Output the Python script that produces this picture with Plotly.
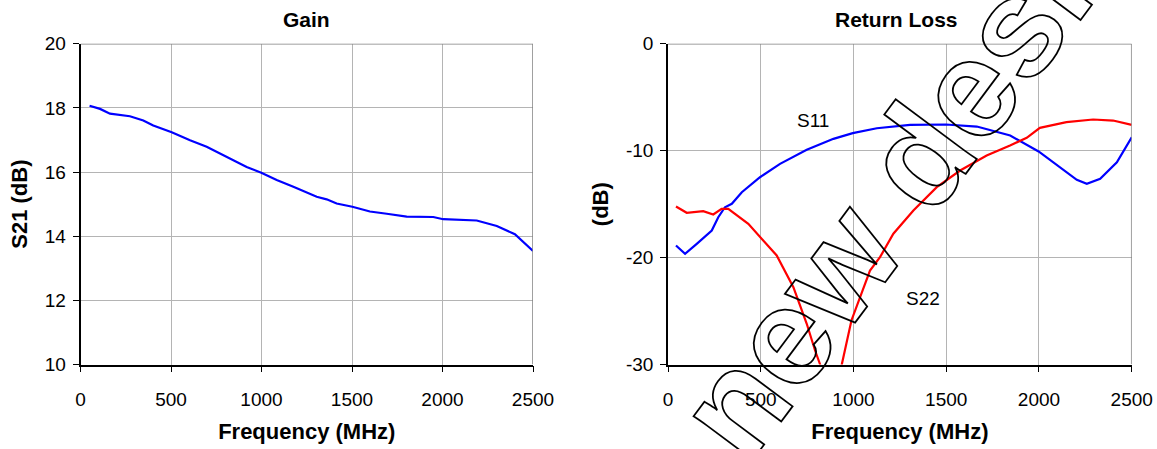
import plotly.graph_objects as go

# ---------------- data ----------------
gain_freq = [50, 108, 163, 227, 273, 347, 402, 504, 605, 697, 808, 918, 999, 1084, 1176,
             1250, 1305, 1360, 1415, 1502, 1599, 1692, 1802, 1949, 2004, 2189, 2245, 2300,
             2400, 2500]
gain_s21 = [18.07, 17.97, 17.82, 17.76, 17.74, 17.61, 17.45, 17.24, 16.99, 16.79, 16.48,
            16.16, 15.98, 15.75, 15.54, 15.37, 15.23, 15.15, 15.02, 14.92, 14.77, 14.70,
            14.61, 14.60, 14.53, 14.49, 14.40, 14.32, 14.06, 13.54]

s11_freq = [43, 92, 155, 236, 271, 307, 344, 398, 496, 604, 748, 892, 996, 1126, 1305,
            1498, 1665, 1845, 1998, 2114, 2204, 2258, 2330, 2420, 2500]
s11_db = [-18.87, -19.65, -18.71, -17.47, -16.22, -15.29, -14.97, -13.88, -12.48, -11.23,
          -9.92, -8.89, -8.36, -7.90, -7.58, -7.55, -7.74, -8.58, -10.07, -11.54, -12.72,
          -13.10, -12.63, -11.08, -8.74]

s22_freq = [43, 101, 190, 244, 289, 325, 433, 586, 676, 748, 793, 820, 850, 880, 905, 937,
            989, 1035, 1089, 1143, 1215, 1323, 1449, 1575, 1718, 1844, 1934, 2005, 2148,
            2292, 2400, 2500]
s22_db = [-15.22, -15.81, -15.66, -15.97, -15.44, -15.44, -16.84, -19.80, -22.77, -26.19,
          -28.69, -30.0, -33.5, -37.0, -35.0, -30.0, -25.88, -23.70, -21.21, -19.96, -17.77,
          -15.59, -13.41, -11.85, -10.45, -9.51, -8.79, -7.86, -7.33, -7.08, -7.18, -7.58]

x_ticks = [0, 500, 1000, 1500, 2000, 2500]
gain_ticks = [10, 12, 14, 16, 18, 20]
rl_ticks = [-30, -20, -10, 0]
rl_tick_labels = ["-30", "-20", "-10", "0"]

FONT = "Liberation Sans, Arial, sans-serif"
W, H = 1157, 449

fig = go.Figure()
fig.add_trace(go.Scatter(x=gain_freq, y=gain_s21, mode="lines", name="S21",
                         line=dict(color="#0000ff", width=2.2), xaxis="x", yaxis="y"))
fig.add_trace(go.Scatter(x=s11_freq, y=s11_db, mode="lines", name="S11",
                         line=dict(color="#0000ff", width=2.2), xaxis="x2", yaxis="y2"))
fig.add_trace(go.Scatter(x=s22_freq, y=s22_db, mode="lines", name="S22",
                         line=dict(color="#ff0000", width=2.2), xaxis="x2", yaxis="y2"))

ydom = [1 - 364.5 / H, 1 - 43.8 / H]
common_x = dict(range=[0, 2500], tickvals=x_ticks, showgrid=True, gridcolor="#b4b4b4",
                gridwidth=1, showline=True, linecolor="black", linewidth=1.5,
                ticks="outside", ticklen=6, tickcolor="black", zeroline=False,
                automargin=False,
                tickfont=dict(family=FONT, size=19, color="black"),
                ticklabelstandoff=11,
                title=dict(text="<b>Frequency (MHz)</b>",
                           font=dict(family=FONT, size=22, color="black"), standoff=15))
common_y = dict(showgrid=True, gridcolor="#b4b4b4", gridwidth=1, showline=True,
                linecolor="black", linewidth=1.5, ticks="outside", ticklen=6,
                tickcolor="black", zeroline=False, automargin=False,
                ticklabelstandoff=3,
                tickfont=dict(family=FONT, size=19, color="black"))

fig.update_layout(
    template="none",
    width=W, height=H, margin=dict(l=0, r=0, t=0, b=0),
    paper_bgcolor="white", plot_bgcolor="white", showlegend=False,
    xaxis=dict(common_x, domain=[80.5 / W, 533 / W], anchor="y"),
    yaxis=dict(common_y, domain=ydom, anchor="x", range=[10, 20], tickvals=gain_ticks,
               title=dict(text="<b>S21 (dB)</b>",
                          font=dict(family=FONT, size=22, color="black"), standoff=11)),
    xaxis2=dict(common_x, domain=[668 / W, 1131.7 / W], anchor="y2"),
    yaxis2=dict(common_y, domain=ydom, anchor="x2", range=[-30, 0], tickvals=rl_ticks,
                ticktext=rl_tick_labels,
                title=dict(text="<b>(dB)</b>",
                           font=dict(family=FONT, size=22, color="black"), standoff=11)),
)

# gray top/right plot borders
for xr, yr, ytop, ybot in [("x", "y", 20, 10), ("x2", "y2", 0, -30)]:
    fig.add_shape(type="line", xref=xr, yref=yr, x0=0, x1=2500, y0=ytop, y1=ytop,
                  line=dict(color="#808080", width=1.5))
    fig.add_shape(type="line", xref=xr, yref=yr, x0=2500, x1=2500, y0=ybot, y1=ytop,
                  line=dict(color="#808080", width=1.5))

# subplot titles
fig.add_annotation(text="<b>Gain</b>", xref="paper", yref="paper",
                   x=306 / W, y=1 - 19 / H, xanchor="center", yanchor="middle",
                   showarrow=False, font=dict(family=FONT, size=21, color="black"))
fig.add_annotation(text="<b>Return Loss</b>", xref="paper", yref="paper",
                   x=896 / W, y=1 - 19 / H, xanchor="center", yanchor="middle",
                   showarrow=False, font=dict(family=FONT, size=21, color="black"))

# curve labels
fig.add_annotation(text="S11", xref="x2", yref="y2", x=784, y=-7.2, showarrow=False,
                   font=dict(family=FONT, size=19, color="black"))
fig.add_annotation(text="S22", xref="x2", yref="y2", x=1377, y=-23.85, showarrow=False,
                   font=dict(family=FONT, size=19, color="black"))

# outlined watermark
fig.add_annotation(text="<b>new design</b>", xref="paper", yref="paper",
                   x=934 / W, y=1 - 135.5 / H, xanchor="center", yanchor="middle",
                   showarrow=False, textangle=-53.3,
                   font=dict(family=FONT, size=139, color="rgba(0,0,0,0)"))

post = """
document.body.style.margin = '0';
var gd = document.getElementById('{plot_id}');
function wm(){
  gd.querySelectorAll('.annotation-text').forEach(function(t){
    if (t.textContent.indexOf('new design') === 0) {
      t.style.fill = 'none';
      t.style.stroke = '#000';
      t.style.strokeWidth = '1.8px';
      t.querySelectorAll('*').forEach(function(c){
        c.style.fill = 'none'; c.style.stroke = '#000'; c.style.strokeWidth = '1.8px';
      });
    }
  });
}
wm();
gd.on('plotly_afterplot', wm);
"""

fig.write_html("out.html", post_script=post, config=dict(displayModeBar=False))
